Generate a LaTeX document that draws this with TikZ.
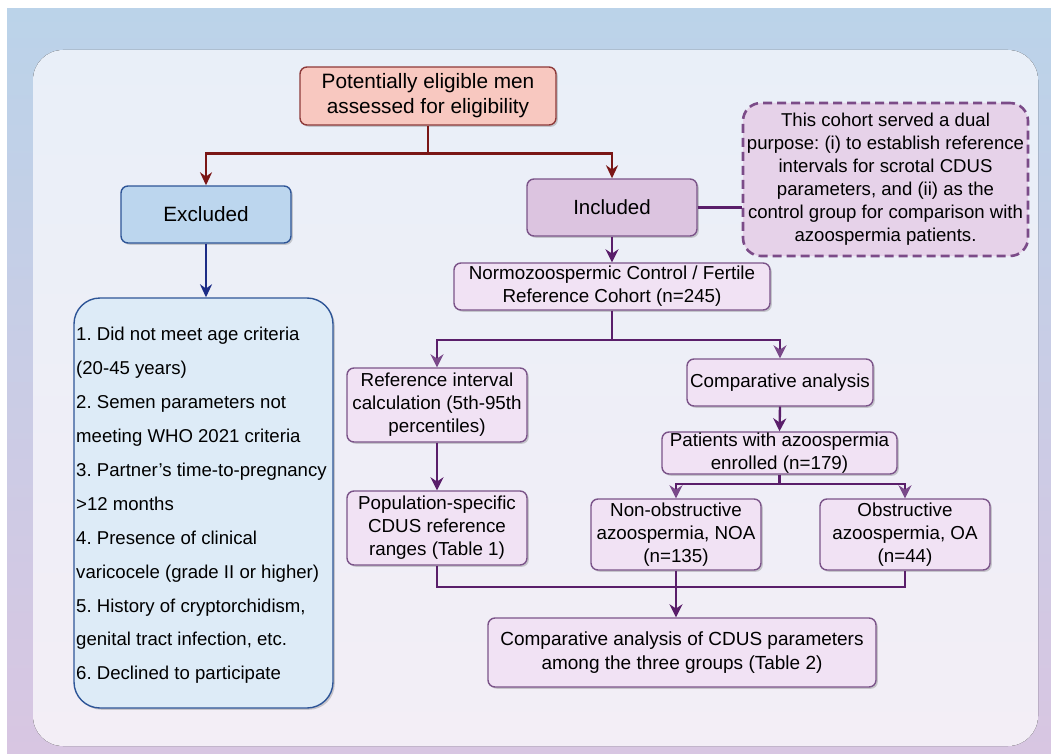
\documentclass[tikz,border=0pt]{standalone}
\usepackage{fontspec}
\setmainfont{Liberation Sans}
\usetikzlibrary{arrows.meta,shadows,calc}
\definecolor{bgtop}{HTML}{BBD3E9}
\definecolor{bgbot}{HTML}{D8C6E2}
\definecolor{intop}{HTML}{E9EFF8}
\definecolor{inbot}{HTML}{F3EEF6}
\definecolor{redfill}{HTML}{F8C8C0}
\definecolor{redline}{HTML}{8E3A3A}
\definecolor{redarrow}{HTML}{7A1616}
\definecolor{bluefill}{HTML}{BCD6EE}
\definecolor{listfill}{HTML}{DDEBF7}
\definecolor{blueline}{HTML}{2E5597}
\definecolor{bluearrow}{HTML}{1C2C86}
\definecolor{inclfill}{HTML}{DCC4E0}
\definecolor{dashfill}{HTML}{E6D2E9}
\definecolor{lightfill}{HTML}{F1E2F4}
\definecolor{purpline}{HTML}{7B5489}
\definecolor{purparrow}{HTML}{5A1E6A}
\definecolor{purptip}{HTML}{7A4A8A}
\newcommand\myfs[2]{\fontsize{#1}{#2}\selectfont}
\frenchspacing
\tikzset{
  boxbase/.style={draw, line width=1.4pt, rounded corners=7pt, align=center, inner sep=0pt,
    drop shadow={shadow xshift=1.8pt, shadow yshift=-1.8pt, opacity=0.3, fill=black!60}},
  redbox/.style={boxbase, draw=redline, fill=redfill, font=\myfs{20.8}{25}},
  bluebox/.style={boxbase, draw=blueline, fill=bluefill, font=\myfs{20.7}{25}},
  inclbox/.style={boxbase, draw=purpline, fill=inclfill, font=\myfs{20.5}{25}},
  lightbox/.style={boxbase, draw=purpline, fill=lightfill, font=\myfs{18.8}{23}},
  notebox/.style={draw=purparrow!80, fill=dashfill, line width=2.6pt, dash pattern=on 9pt off 5pt,
    rounded corners=18pt, align=center, inner sep=0pt, font=\myfs{18.6}{23}},
  listbox/.style={draw=blueline, fill=listfill, line width=1.4pt, rounded corners=26pt,
    drop shadow={shadow xshift=1.8pt, shadow yshift=-1.8pt, opacity=0.3, fill=black!60}},
  redarr/.style={draw=redarrow, line width=2.8pt, -{Stealth[length=13pt,width=12pt]}},
  redln/.style={draw=redarrow, line width=2.8pt},
  bluearr/.style={draw=bluearrow, line width=2.4pt, -{Stealth[length=13pt,width=12pt]}},
  purparr/.style={draw=purparrow, line width=2.4pt, -{Stealth[length=13pt,width=13pt]}},
  purparrl/.style={draw=purparrow, line width=2.4pt, -{Stealth[length=13pt,width=13pt,color=purptip]}},
  purpln/.style={draw=purparrow, line width=2.4pt},
}
\begin{document}
\begin{tikzpicture}[x=1pt,y=-1pt]
\useasboundingbox (0,0) rectangle (1051,754);
\fill[white] (0,0) rectangle (1051,754);
\fill[top color=bgtop, bottom color=bgbot] (7,9) rectangle (1051,754);
\fill[top color=intop, bottom color=inbot, rounded corners=30pt] (33,50) rectangle (1038,746);

% nodes
\node[redbox, minimum width=256pt, minimum height=58pt] (top) at (428,96)
  {Potentially eligible men\\assessed for eligibility};
\node[bluebox, minimum width=170pt, minimum height=57pt] (excl) at (206,214.5) {Excluded};
\node[listbox, minimum width=259pt, minimum height=410pt] (list) at (203.5,503) {};
\node[anchor=west, align=left, inner sep=0pt, font=\myfs{18.6}{33.9}] (listtext) at (76,505.5)
  {1. Did not meet age criteria\\
   (20-45 years)\\
   2. Semen parameters not\\
   meeting WHO 2021 criteria\\
   3. Partner’s time-to-pregnancy\\
   >12 months\\
   4. Presence of clinical\\
   varicocele (grade II or higher)\\
   5. History of cryptorchidism,\\
   genital tract infection, etc.\\
   6. Declined to participate};
\node[inclbox, minimum width=170pt, minimum height=57pt] (incl) at (612,207.5) {Included};
\node[notebox, minimum width=285pt, minimum height=153pt] (note) at (885.5,179.5)
  {This cohort served a dual\\purpose: (i) to establish reference\\intervals for scrotal CDUS\\parameters, and (ii) as the\\control group for comparison with\\azoospermia patients.};
\node[lightbox, minimum width=316pt, minimum height=47pt] (normo) at (612,286.5)
  {Normozoospermic Control / Fertile\\Reference Cohort (n=245)};
\node[lightbox, minimum width=180pt, minimum height=74pt] (ref) at (437,405)
  {Reference interval\\calculation (5th-95th\\percentiles)};
\node[lightbox, minimum width=180pt, minimum height=74pt] (pop) at (437,528)
  {Population-specific\\CDUS reference\\ranges (Table 1)};
\node[lightbox, minimum width=186pt, minimum height=47pt] (comp) at (780,382.5)
  {Comparative analysis};
\node[lightbox, minimum width=235pt, minimum height=42pt] (pat) at (779.5,453)
  {Patients with azoospermia\\enrolled (n=179)};
\node[lightbox, minimum width=170pt, minimum height=71pt] (noa) at (676,534.5)
  {Non-obstructive\\azoospermia, NOA\\(n=135)};
\node[lightbox, minimum width=170pt, minimum height=71pt] (oa) at (905,534.5)
  {Obstructive\\azoospermia, OA\\(n=44)};
\node[lightbox, minimum width=388pt, minimum height=69pt, font=\myfs{19}{24}] (final) at (682,652.5)
  {Comparative analysis of CDUS parameters\\among the three groups (Table 2)};

% connectors
\coordinate (split1) at ($(top.south)+(0,28)$);
\draw[redln] (top.south) -- (split1);
\draw[redarr] (split1) -| (excl.north);
\draw[redarr] (split1) -| (incl.north);
\draw[bluearr] (excl.south) -- (excl.south |- list.north);
\draw[purpln] (incl.east) -- (incl.east -| note.west);
\draw[purparr] (incl.south) -- (normo.north);
\coordinate (split2) at (normo.south |- 0,340);
\draw[purpln] (normo.south) -- (split2);
\draw[purparrl] (split2) -| (ref.north);
\draw[purparrl] (split2) -| (comp.north);
\draw[purparr] (ref.south) -- (pop.north);
\draw[purparr] (comp.south) -- (pat.north);
\coordinate (split3) at (pat.south |- 0,484);
\draw[purpln] (pat.south) -- (split3);
\draw[purparrl] (split3) -| (noa.north);
\draw[purparrl] (split3) -| (oa.north);
\coordinate (merge) at (pop.south |- 0,587);
\draw[purpln] (pop.south) -- (merge) -| (oa.south);
\draw[purparr] (noa.south) -- (noa.south |- final.north);
\end{tikzpicture}
\end{document}
